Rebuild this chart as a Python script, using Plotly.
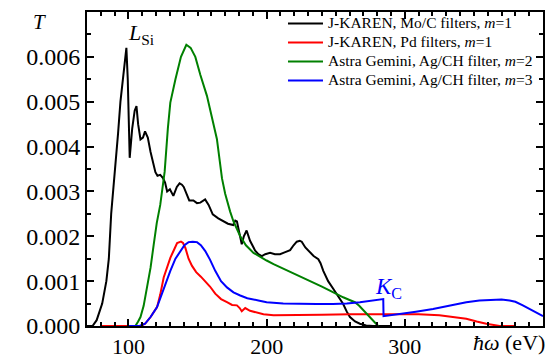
import plotly.graph_objects as go

# J-KAREN, Mo/C filters, m=1 (black)
black_x = [70, 74, 77, 79, 81, 84, 85.8, 87.5, 89, 90.6, 92.5, 94.2, 96.6, 98.5, 99.5, 100.9, 102.7, 104.5,
           105.8, 107, 108.7, 110.5, 112, 114, 116, 118, 119.5, 121, 123, 125, 126.5, 128, 130, 132.5, 135,
           137, 138.7, 140, 142, 144, 147, 149.6, 152, 155.5, 158, 161, 165, 168.6, 172, 175.8, 177.3, 178.5,
           180, 182, 183.5, 185.5, 188, 191.7, 194, 196.5, 199, 202.5, 206, 209.7, 213, 217, 219.5, 221.8,
           224, 225.4, 228, 231.4, 234, 237.4, 239, 241, 244.5, 248.2, 252, 255.4, 258, 260.3, 264, 267.5,
           272, 277, 290]
black_y = [0, 0, 0.00013, 0.0003, 0.0005, 0.001, 0.0015, 0.0025, 0.003, 0.0035, 0.0043, 0.005, 0.0056, 0.0062,
           0.0055, 0.00375, 0.0044, 0.0048, 0.0049, 0.0045, 0.00416, 0.0042, 0.00434, 0.0042, 0.00388, 0.0036,
           0.00343, 0.00335, 0.00337, 0.0033, 0.0032, 0.003, 0.00305, 0.0029, 0.0031, 0.00318, 0.00315, 0.0031,
           0.00295, 0.0028, 0.0028, 0.00274, 0.00275, 0.00282, 0.0027, 0.00249, 0.0024, 0.00233, 0.00228,
           0.00225, 0.00235, 0.00233, 0.0021, 0.00182, 0.002, 0.00213, 0.0019, 0.00168, 0.0016, 0.00156, 0.0016,
           0.00163, 0.0016, 0.0016, 0.00164, 0.00169, 0.0018, 0.00188, 0.0019, 0.00188, 0.00175, 0.00163,
           0.00156, 0.00149, 0.0014, 0.00123, 0.001, 0.00083, 0.00065, 0.00049, 0.00032, 0.0002, 0.0001,
           0.00005, 0.00001, 0, 0]

# J-KAREN, Pd filters, m=1 (red)
red_x = [80, 105, 108.7, 112, 116, 120.7, 123, 125.5, 128, 130.3, 133, 135.2, 138, 139.5, 141.2, 143.5, 146,
         149, 152.4, 156.8, 159, 162.8, 167, 171.3, 175, 178.5, 180.5, 182, 184.5, 188, 191.7, 197.7, 205, 215,
         224, 240, 260.3, 280, 296.4, 310, 325, 335, 344.5, 352, 359, 368.6, 380]
red_y = [0, 0, 0, 0.00005, 0.0002, 0.00042, 0.0007, 0.00108, 0.0013, 0.00152, 0.0017, 0.00185, 0.00188,
         0.00185, 0.00174, 0.0015, 0.00134, 0.0012, 0.0011, 0.00096, 0.00088, 0.00072, 0.0006, 0.00053,
         0.00047, 0.00046, 0.0004, 0.00033, 0.0004, 0.00034, 0.00031, 0.00026, 0.00024, 0.00024, 0.00024,
         0.00025, 0.00026, 0.00026, 0.00026, 0.00026, 0.00024, 0.0002, 0.00016, 0.0001, 0.00005, 0, 0]

# Astra Gemini, Ag/CH filter, m=2 (green)
green_x = [100, 105, 107, 108.7, 111, 113.5, 116, 118.3, 120.5, 123, 126.2, 128.5, 130.3, 134, 138, 141.9, 145,
           148.4, 152, 156.8, 160, 164, 167.7, 170, 173.6, 176, 180.9, 185, 190.5, 194, 200, 205, 212, 219.4,
           226, 233.8, 240, 245.8, 251, 255.4, 260, 263.9, 267, 269.9, 273, 275.9, 278.5, 280.7]
green_y = [0, 0, 0.0001, 0.0002, 0.00045, 0.00086, 0.0013, 0.00182, 0.0023, 0.0027, 0.00344, 0.0044, 0.00498,
           0.0055, 0.006, 0.00627, 0.0062, 0.006, 0.0056, 0.00513, 0.0047, 0.00417, 0.00329, 0.00295, 0.00255,
           0.00233, 0.002, 0.0018, 0.00163, 0.00156, 0.00146, 0.00138, 0.00128, 0.00119, 0.00108, 0.00097,
           0.00088, 0.00079, 0.0007, 0.00064, 0.00058, 0.00053, 0.00045, 0.00035, 0.00025, 0.00016, 0.00007, 0]

# Astra Gemini, Ag/CH filter, m=3 (blue)
blue_x = [100, 108, 112, 116, 120.7, 125, 130.3, 134, 137.5, 140.5, 143.5, 146.5, 149.6, 152.4, 155.6, 159,
          162.8, 167, 171.3, 176, 180.9, 186, 194, 200, 212, 224, 236, 248, 258, 267.5, 276, 284.4, 284.6, 290,
          296.4, 308, 320.4, 332, 344.5, 354, 363.7, 370, 375.8, 380, 385.4, 392, 400]
blue_y = [0, 0, 0.00005, 0.0002, 0.00042, 0.0008, 0.00123, 0.0015, 0.00167, 0.0018, 0.00187, 0.00188, 0.00187,
          0.0018, 0.00167, 0.00148, 0.00123, 0.001, 0.00086, 0.00075, 0.00068, 0.00062, 0.00057, 0.00053,
          0.0005, 0.00049, 0.00049, 0.00049, 0.0005, 0.00053, 0.00056, 0.0006, 0.00022, 0.00024, 0.00027,
          0.00032, 0.00038, 0.00046, 0.00053, 0.00057, 0.00059, 0.00059, 0.00057, 0.00054, 0.00046, 0.00035,
          0.00022]

names = ["J-KAREN, Mo/C filters, <i>m</i>=1", "J-KAREN, Pd filters, <i>m</i>=1",
         "Astra Gemini, Ag/CH filter, <i>m</i>=2", "Astra Gemini, Ag/CH filter, <i>m</i>=3"]
colors = ["#000000", "#ff0000", "#008000", "#0000ff"]

x_ticks = [100, 200, 300]
y_ticks = [0, 0.001, 0.002, 0.003, 0.004, 0.005, 0.006]
y_ticklabels = ["0.000", "0.001", "0.002", "0.003", "0.004", "0.005", "0.006"]

FONT = "'Liberation Serif', 'Times New Roman', Times, serif"

fig = go.Figure()
for xs, ys, nm, c in zip([black_x, red_x, green_x, blue_x], [black_y, red_y, green_y, blue_y], names, colors):
    fig.add_trace(go.Scatter(x=xs, y=ys, mode="lines",
                             name='<span style="font-size:15.5px">' + nm + '</span>',
                             line=dict(color=c, width=2)))

fig.update_layout(
    width=553, height=355,
    margin=dict(l=87, r=10, t=9, b=29),
    paper_bgcolor="white", plot_bgcolor="white",
    font=dict(family=FONT, color="black", size=22),
    showlegend=True,
    legend=dict(x=0.4298, y=1.0095, xanchor="left", yanchor="top", bgcolor="rgba(0,0,0,0)",
                font=dict(family=FONT, size=12.3, color="black"), tracegroupgap=0,
                itemwidth=35),
    xaxis=dict(range=[70, 400], showline=True, linewidth=2, linecolor="black", mirror="ticks",
               ticks="inside", ticklen=7, tickwidth=1.5, tickcolor="black", tickvals=x_ticks,
               showgrid=False, zeroline=False, tickfont=dict(size=22, family=FONT),
               automargin=False, ticklabelstandoff=0,
               minor=dict(ticks="inside", dtick=10, tick0=0, ticklen=4, tickwidth=1.5, tickcolor="black",
                          showgrid=False)),
    yaxis=dict(range=[0, 0.007], showline=True, linewidth=2, linecolor="black", mirror="ticks",
               ticks="inside", ticklen=7, tickwidth=1.5, tickcolor="black", tickvals=y_ticks,
               ticktext=y_ticklabels, showgrid=False, zeroline=False, tickfont=dict(size=24, family=FONT),
               automargin=False,
               minor=dict(ticks="inside", dtick=0.0005, tick0=0, ticklen=4, tickwidth=1.5,
                          tickcolor="black", showgrid=False)),
)

fig.add_annotation(text="<i>T</i>", xref="paper", yref="paper", x=-0.1031, y=0.968,
                   xanchor="center", yanchor="middle", showarrow=False, font=dict(size=21, family=FONT))
fig.add_annotation(text="<i>ħω</i> (eV)", xref="paper", yref="paper", x=1.0088, y=-0.0536,
                   xanchor="right", yanchor="middle", showarrow=False, font=dict(size=22, family=FONT))
fig.add_annotation(text="<i>L</i><sub>Si</sub>", x=98, y=0.0065, xanchor="left", yanchor="middle",
                   showarrow=False, font=dict(size=22, family=FONT, color="black"))
fig.add_annotation(text="<i>K</i><sub>C</sub>", x=277, y=0.00085, xanchor="left", yanchor="middle",
                   showarrow=False, font=dict(size=23, family=FONT, color="#0000ff"))

fig.write_html("out.html")
